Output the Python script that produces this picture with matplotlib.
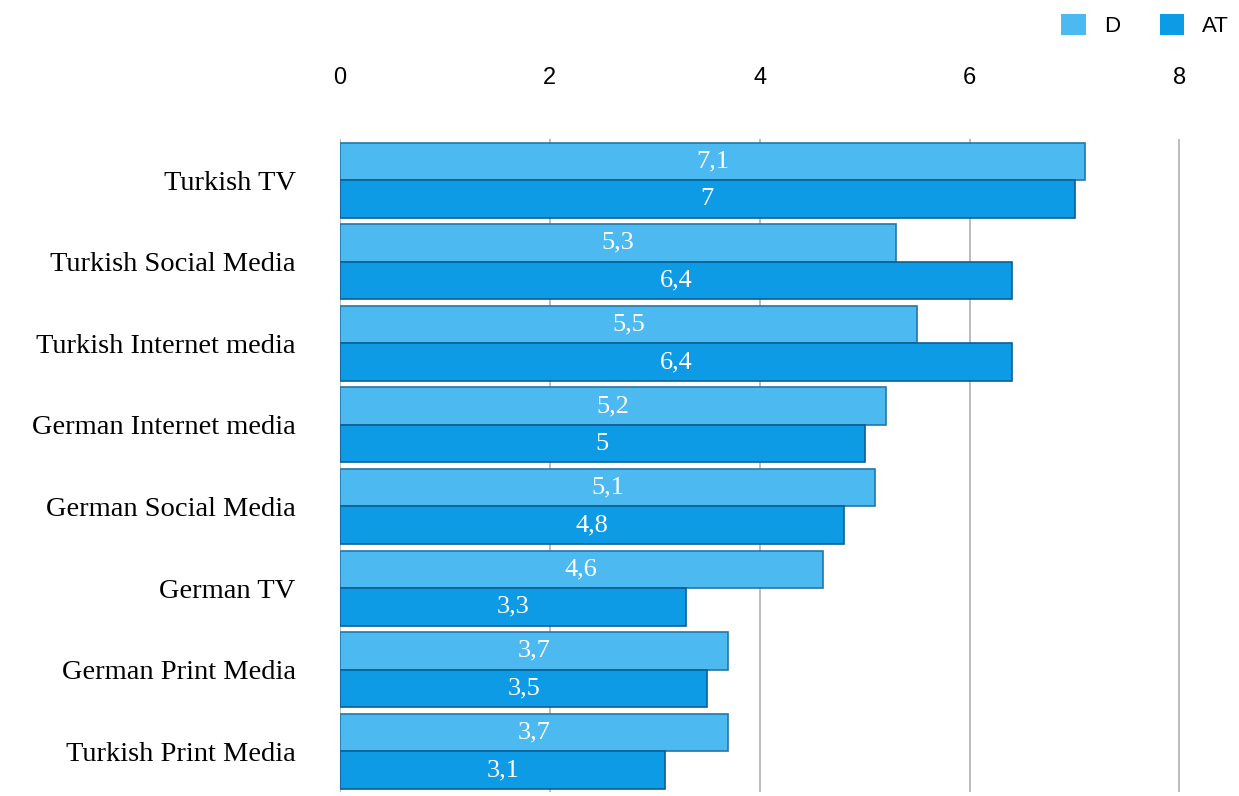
import numpy as np
import matplotlib.pyplot as plt
from matplotlib.patches import Patch

# Data (top to bottom)
categories = [
    "Turkish TV", "Turkish Social Media", "Turkish Internet media",
    "German Internet media", "German Social Media", "German TV",
    "German Print Media", "Turkish Print Media",
]
d_values = [7.1, 5.3, 5.5, 5.2, 5.1, 4.6, 3.7, 3.7]
at_values = [7.0, 6.4, 6.4, 5.0, 4.8, 3.3, 3.5, 3.1]
x_ticks = [0, 2, 4, 6, 8]

color_d = "#4cb9f0"
color_at = "#0d9be6"

fig = plt.figure(figsize=(12.39, 7.96), dpi=100)
ax = fig.add_axes([0.2744, 0.005, 0.686, 0.82])

y = np.arange(len(categories))
h = 0.46
bars_d = ax.barh(y - h / 2, d_values, height=h, color=color_d,
                 edgecolor="#2378a8", linewidth=1.2, label="D", zorder=3)
bars_at = ax.barh(y + h / 2, at_values, height=h, color=color_at,
                  edgecolor="#0b5f93", linewidth=1.2, label="AT", zorder=3)

fmt = lambda v: f"{v:g}".replace(".", ",")
for bars in (bars_d, bars_at):
    ax.bar_label(bars, labels=[fmt(b.get_width()) for b in bars],
                 label_type="center", color="white", fontsize=19,
                 family="Liberation Serif", zorder=4)

ax.set_xlim(0, 8.1)
ax.set_ylim(len(categories) - 0.5, -0.5)
ax.set_xticks(x_ticks)
ax.set_xticklabels([str(t) for t in x_ticks], family="Liberation Sans", fontsize=17)
ax.xaxis.tick_top()
ax.tick_params(axis="x", length=0, pad=36)
ax.set_yticks(y)
ax.set_yticklabels(categories, family="Liberation Serif", fontsize=20.5)
ax.tick_params(axis="y", length=0, pad=32)
ax.grid(True, axis="x", color="#b0b0b0", linewidth=1.2, zorder=0)
for s in ax.spines.values():
    s.set_visible(False)

handles = [Patch(facecolor=color_d, edgecolor="none"),
           Patch(facecolor=color_at, edgecolor="none")]
fig.legend(handles=handles, labels=["D", "AT"], loc="upper right",
           bbox_to_anchor=(1.008, 1.008), ncol=2, frameon=False,
           prop={"family": "Liberation Sans", "size": 16},
           handlelength=1.1, handleheight=1.1, handletextpad=0.8,
           columnspacing=1.8)

fig.savefig("out.png", dpi=100)
